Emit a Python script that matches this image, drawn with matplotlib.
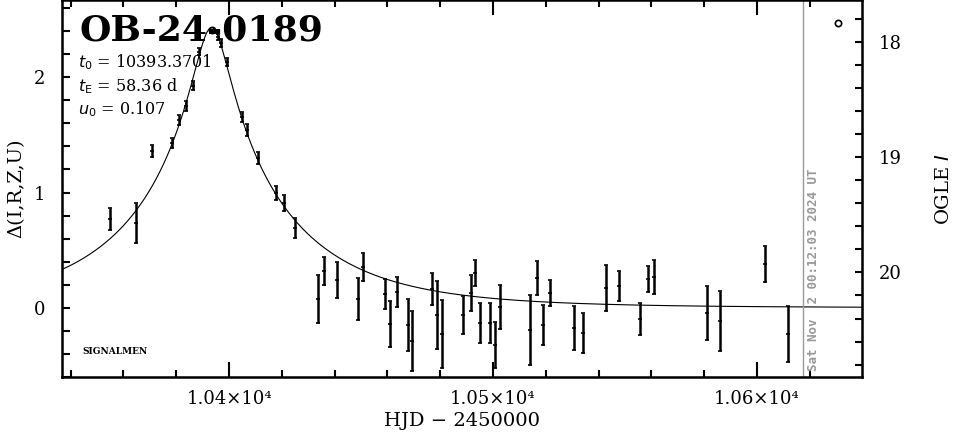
import numpy as np
import matplotlib
matplotlib.use('Agg')
import matplotlib.pyplot as plt
from matplotlib.ticker import MultipleLocator, FuncFormatter

plt.rcParams['font.family'] = ['DejaVu Serif']

# Pontos (HJD - 2450000, Delta mag, erro)
hjd = [10354.9, 10364.8, 10370.8, 10378.4, 10381.1, 10383.7, 10386.4, 10388.6,
       10395.8, 10397.0, 10399.2, 10404.9, 10406.8, 10411.0, 10417.8, 10420.8,
       10425.0, 10433.7, 10436.0, 10440.9, 10448.9, 10450.8, 10459.1, 10461.0,
       10463.6, 10467.8, 10469.3, 10476.9, 10478.8, 10480.7, 10488.6, 10491.7,
       10493.2, 10495.1, 10498.9, 10500.8, 10502.7, 10514.0, 10516.7, 10518.9,
       10521.6, 10530.7, 10534.1, 10542.8, 10547.7, 10555.7, 10558.7, 10561.0,
       10581.1, 10586.0, 10603.0, 10611.7]
dmag = [0.772, 0.737, 1.362, 1.431, 1.631, 1.752, 1.925, 2.220,
        2.350, 2.298, 2.134, 1.657, 1.544, 1.301, 0.997, 0.911,
        0.694, 0.078, 0.321, 0.243, 0.078, 0.356, 0.121, -0.139,
        0.139, -0.147, -0.286, 0.165, -0.061, -0.225, -0.061, 0.130,
        0.304, -0.130, -0.130, -0.321, 0.009, -0.191, 0.260, -0.147,
        0.130, -0.173, -0.217, 0.173, 0.191, -0.095, 0.252, 0.269,
        -0.043, -0.113, 0.382, -0.225]
derr = [0.095, 0.173, 0.052, 0.043, 0.043, 0.043, 0.039, 0.030,
        0.026, 0.035, 0.035, 0.043, 0.052, 0.052, 0.061, 0.069,
        0.087, 0.208, 0.121, 0.156, 0.182, 0.121, 0.130, 0.199,
        0.130, 0.226, 0.260, 0.139, 0.295, 0.295, 0.165, 0.156,
        0.113, 0.173, 0.173, 0.199, 0.191, 0.304, 0.147, 0.173,
        0.113, 0.191, 0.173, 0.199, 0.130, 0.139, 0.113, 0.147,
        0.234, 0.260, 0.156, 0.243]

# Parametros do modelo
t0 = 10393.3701
tE = 58.36
u0 = 0.107
I_base = 20.307

# Marcadores abertos
circ_t = [t0, 10630.7]
circ_d = [2.41, 2.47]

now_hjd = 10617.3

fig = plt.figure(figsize=(9.65, 4.34), dpi=100)
ax = fig.add_axes([62/965, 1 - 377/434, 800/965, 377/434])

# Curva de Paczynski
t = np.linspace(10336, 10640, 1200)
u = np.sqrt(((t - t0) / tE)**2 + u0**2)
A = (u**2 + 2) / (u * np.sqrt(u**2 + 4))
ax.plot(t, 2.5 * np.log10(A), color='black', lw=0.8)

ax.errorbar(hjd, dmag, yerr=derr, fmt='_', color='black', ms=3, mew=1.2,
            elinewidth=1.8, capsize=1.5, capthick=1.5)
ax.plot(circ_t, circ_d, 'o', mfc='none', mec='black', ms=4.5, mew=1.2)

ax.axvline(now_hjd, color='#999999', lw=1.0)
ax.text(now_hjd + 1.5, -0.55, 'Sat Nov  2 00:12:03 2024 UT', rotation=90,
        ha='left', va='bottom', color='#999999', fontsize=9,
        family='DejaVu Sans Mono', fontweight='bold')

ax.set_xlim(10336.7, 10639.8)
ax.set_ylim(-0.6, 2.67)
ax.xaxis.set_major_locator(MultipleLocator(100))
ax.xaxis.set_minor_locator(MultipleLocator(20))
ax.yaxis.set_major_locator(MultipleLocator(1))
ax.yaxis.set_minor_locator(MultipleLocator(0.2))
ax.xaxis.set_major_formatter(FuncFormatter(lambda v, p: f'{v/1e4:.2f}×10⁴'))
ax.tick_params(axis='x', which='major', direction='in', length=11, width=1.5,
               top=True, labelsize=13, pad=9)
ax.tick_params(axis='x', which='minor', direction='in', length=5, width=1.5, top=True)
ax.tick_params(axis='y', which='both', direction='in', length=6, width=1.5,
               labelsize=13, pad=12)
for s in ax.spines.values():
    s.set_linewidth(1.8)

ax.set_xlabel('HJD − 2450000', fontsize=14, labelpad=3)
ax.set_ylabel('Δ(I,R,Z,U)', fontsize=14, labelpad=6)

# Eixo OGLE I
ax2 = ax.twinx()
ax2.set_ylim(I_base + 0.6, I_base - 2.67)
ax2.yaxis.set_major_locator(MultipleLocator(1))
ax2.yaxis.set_minor_locator(MultipleLocator(0.2))
ax2.tick_params(axis='y', which='both', direction='in', length=5, width=1.5,
                labelsize=13, pad=12)
ax2.set_ylabel('OGLE $I$', fontsize=14, labelpad=24)

ax.text(0.022, 0.965, 'OB-24-0189', transform=ax.transAxes, fontsize=26,
        fontweight='bold', va='top', ha='left')
ax.text(0.02, 0.835, '$t_0$ = 10393.3701', transform=ax.transAxes, fontsize=11.5,
        va='center')
ax.text(0.02, 0.772, '$t_{\\rm E}$ = 58.36 d', transform=ax.transAxes, fontsize=11.5,
        va='center')
ax.text(0.02, 0.71, '$u_0$ = 0.107', transform=ax.transAxes, fontsize=11.5,
        va='center')
ax.text(0.026, 0.06, 'SIGNALMEN', transform=ax.transAxes, fontsize=6.5,
        fontweight='bold')

fig.savefig('out.png', dpi=100)
